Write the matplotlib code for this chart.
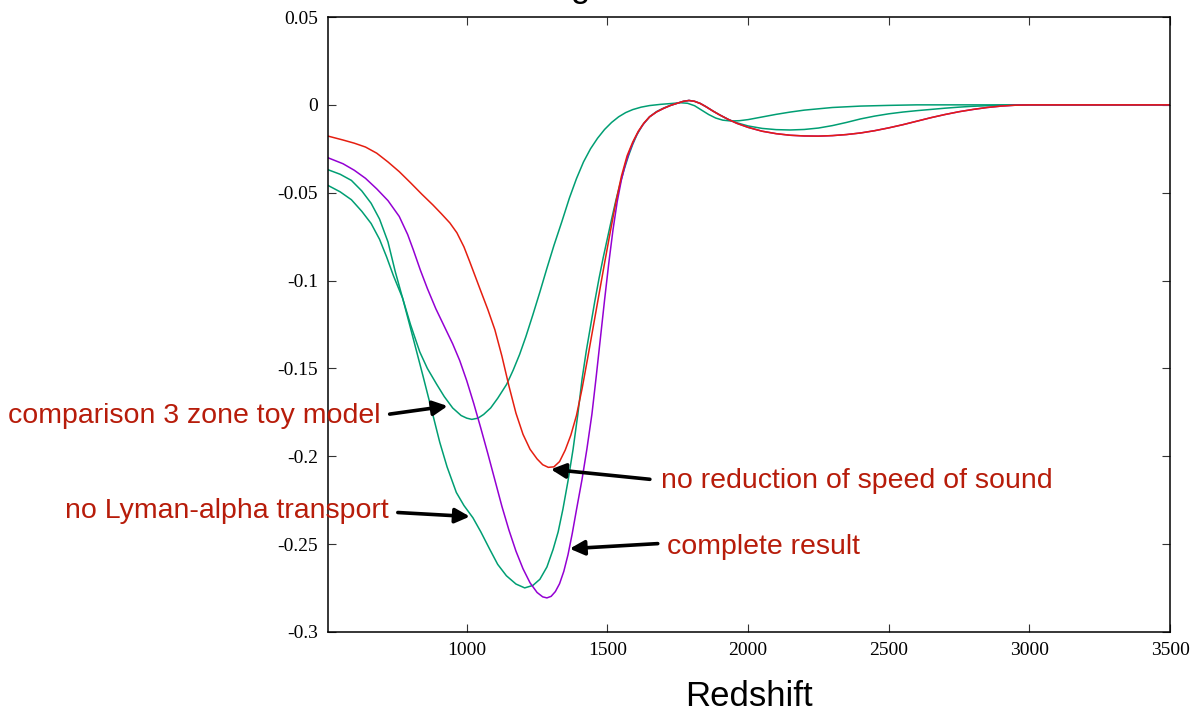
import matplotlib
matplotlib.use("Agg")
import matplotlib.pyplot as plt

# Redshift samples and relative signal for each run
z_nored = [505, 560, 600, 640, 680, 720, 760, 800, 840, 880, 910, 940, 965, 990, 1010,
           1030, 1050, 1075, 1100, 1125, 1150, 1175, 1200, 1225, 1250, 1270, 1290,
           1310, 1330, 1350, 1370, 1390, 1410, 1430, 1450, 1470, 1490, 1510, 1530,
           1550, 1570, 1590, 1610, 1630, 1650, 1675, 1700, 1725, 1750, 1770, 1790,
           1810, 1830, 1850, 1875, 1900, 1930, 1960, 2000, 2050, 2100, 2150, 2200,
           2250, 2300, 2350, 2400, 2450, 2500, 2550, 2600, 2650, 2700, 2750, 2800,
           2850, 2900, 2950, 3000, 3500]
v_nored = [-0.0177, -0.0200, -0.0218, -0.0240, -0.0275, -0.0325, -0.0380, -0.0443,
           -0.0508, -0.0570, -0.0620, -0.0672, -0.0728, -0.0808, -0.0890, -0.0975,
           -0.1060, -0.1165, -0.1280, -0.1430, -0.1600, -0.1755, -0.1875, -0.1960,
           -0.2015, -0.2048, -0.2063, -0.2060, -0.2030, -0.1965, -0.1880, -0.1768,
           -0.1615, -0.1440, -0.1260, -0.1080, -0.0900, -0.0725, -0.0555, -0.0405,
           -0.0290, -0.0212, -0.0150, -0.0103, -0.0068, -0.0040, -0.0020, -0.0003,
           0.0010, 0.0020, 0.0025, 0.0020, 0.0008, -0.0010, -0.0035, -0.0058,
           -0.0083, -0.0105, -0.0128, -0.0150, -0.0164, -0.0173, -0.0177, -0.0178,
           -0.0175, -0.0169, -0.0160, -0.0147, -0.0131, -0.0113, -0.0093, -0.0073,
           -0.0055, -0.0039, -0.0026, -0.0015, -0.0007, -0.0002, 0.0, 0.0]

z_full = [505, 560, 600, 640, 680, 720, 760, 790, 810, 835, 860, 890, 920, 950, 975,
          1000, 1025, 1050, 1075, 1100, 1125, 1150, 1175, 1200, 1225, 1250, 1270,
          1285, 1300, 1315, 1330, 1345, 1360, 1375, 1390, 1410, 1427, 1445, 1460,
          1475, 1490, 1505, 1520, 1535, 1550, 1565, 1580, 1595, 1610, 1630, 1650,
          1675, 1700, 1725, 1750, 1770, 1790, 1810, 1830, 1850, 1875, 1900, 1930,
          1960, 2000, 2050, 2100, 2150, 2200, 2250, 2300, 2350, 2400, 2450, 2500,
          2550, 2600, 2650, 2700, 2750, 2800, 2850, 2900, 2950, 3000, 3500]
v_full = [-0.0300, -0.0335, -0.0372, -0.0418, -0.0478, -0.0545, -0.0635, -0.0738,
          -0.0825, -0.0940, -0.1045, -0.1160, -0.1260, -0.1360, -0.1455, -0.1570,
          -0.1700, -0.1840, -0.1985, -0.2135, -0.2285, -0.2420, -0.2540, -0.2640,
          -0.2720, -0.2775, -0.2800, -0.2806, -0.2797, -0.2770, -0.2725, -0.2655,
          -0.2560, -0.2440, -0.2305, -0.2130, -0.1960, -0.1760, -0.1550, -0.1330,
          -0.1110, -0.0900, -0.0710, -0.0550, -0.0425, -0.0330, -0.0258, -0.0200,
          -0.0152, -0.0105, -0.0068, -0.0040, -0.0020, -0.0003, 0.0010, 0.0020,
          0.0025, 0.0020, 0.0008, -0.0010, -0.0035, -0.0058, -0.0083, -0.0105,
          -0.0128, -0.0150, -0.0164, -0.0173, -0.0177, -0.0178, -0.0175, -0.0169,
          -0.0160, -0.0147, -0.0131, -0.0113, -0.0093, -0.0073, -0.0055, -0.0039,
          -0.0026, -0.0015, -0.0007, -0.0002, 0.0, 0.0]

z_nolya = [505, 550, 590, 627, 660, 690, 720, 746, 772, 800, 844, 875, 904, 930, 963,
           990, 1022, 1050, 1082, 1110, 1141, 1175, 1206, 1235, 1260, 1285, 1307,
           1325, 1342, 1360, 1378, 1395, 1410, 1425, 1440, 1455, 1470, 1485, 1500,
           1515, 1530, 1545, 1560, 1575, 1590, 1605, 1625, 1650, 1675, 1700, 1725,
           1750, 1770, 1790, 1810, 1830, 1850, 1875, 1900, 1930, 1960, 2000, 2050,
           2100, 2150, 2200, 2250, 2300, 2350, 2400, 2450, 2500, 2550, 2600, 2650,
           2700, 2750, 2800, 2850, 2900, 2950, 3000, 3500]
v_nolya = [-0.0368, -0.0395, -0.0430, -0.0490, -0.0560, -0.0650, -0.0780, -0.0950,
           -0.1100, -0.1270, -0.1540, -0.1735, -0.1920, -0.2060, -0.2206, -0.2280,
           -0.2350, -0.2430, -0.2530, -0.2615, -0.2680, -0.2727, -0.2749, -0.2735,
           -0.2700, -0.2630, -0.2530, -0.2430, -0.2300, -0.2140, -0.1960, -0.1760,
           -0.1560, -0.1400, -0.1260, -0.1120, -0.0990, -0.0870, -0.0760, -0.0650,
           -0.0545, -0.0450, -0.0365, -0.0290, -0.0225, -0.0170, -0.0115, -0.0068,
           -0.0038, -0.0018, -0.0002, 0.0010, 0.0020, 0.0025, 0.0020, 0.0008,
           -0.0010, -0.0035, -0.0058, -0.0083, -0.0102, -0.0120, -0.0134, -0.0141,
           -0.0143, -0.0140, -0.0132, -0.0118, -0.0100, -0.0080, -0.0064, -0.0051,
           -0.0041, -0.0033, -0.0026, -0.0019, -0.0013, -0.0008, -0.0005, -0.0002,
           -0.0001, 0.0, 0.0]

z_toy = [505, 550, 590, 627, 660, 690, 715, 740, 772, 800, 833, 860, 893, 920, 950,
         980, 1000, 1018, 1040, 1060, 1085, 1110, 1142, 1165, 1188, 1210, 1235, 1260,
         1285, 1310, 1338, 1365, 1390, 1415, 1440, 1465, 1490, 1515, 1540, 1565,
         1590, 1620, 1650, 1690, 1730, 1760, 1785, 1810, 1835, 1860, 1885, 1910,
         1940, 1970, 2000, 2050, 2100, 2150, 2200, 2300, 2400, 2500, 2600, 3500]
v_toy = [-0.0457, -0.0495, -0.0540, -0.0606, -0.0675, -0.0765, -0.0865, -0.0975,
         -0.1100, -0.1250, -0.1406, -0.1500, -0.1590, -0.1660, -0.1725, -0.1768,
         -0.1783, -0.1790, -0.1783, -0.1762, -0.1725, -0.1670, -0.1590, -0.1510,
         -0.1420, -0.1320, -0.1195, -0.1065, -0.0930, -0.0800, -0.0665, -0.0530,
         -0.0420, -0.0325, -0.0250, -0.0190, -0.0140, -0.0100, -0.0068, -0.0044,
         -0.0027, -0.0013, -0.0004, 0.0003, 0.0008, 0.0012, 0.0009, -0.0005,
         -0.0030, -0.0055, -0.0075, -0.0087, -0.0092, -0.0090, -0.0084, -0.0069,
         -0.0054, -0.0041, -0.0030, -0.0015, -0.0007, -0.0003, 0.0, 0.0]

x_ticks = [1000, 1500, 2000, 2500, 3000, 3500]
y_ticks = [0.05, 0.0, -0.05, -0.1, -0.15, -0.2, -0.25, -0.3]
y_tick_labels = ["0.05", "0", "-0.05", "-0.1", "-0.15", "-0.2", "-0.25", "-0.3"]

RED = "#e51e10"
PURPLE = "#9400d3"
GREEN = "#009e73"
NOTE = "#b71c0a"

fig = plt.figure(figsize=(11.96, 7.16), dpi=100)
ax = fig.add_axes([327.5 / 1196, 1 - 632 / 716, (1170 - 327.5) / 1196, (632 - 17) / 716])

ax.plot(z_toy, v_toy, color=GREEN, lw=1.1)
ax.plot(z_nolya, v_nolya, color=GREEN, lw=1.1)
ax.plot(z_full, v_full, color=PURPLE, lw=1.1)
ax.plot(z_nored, v_nored, color=RED, lw=1.1)

ax.set_xlim(505, 3500)
ax.set_ylim(-0.3, 0.05)
ax.set_xticks(x_ticks)
ax.set_xticklabels([str(t) for t in x_ticks])
ax.set_yticks(y_ticks)
ax.set_yticklabels(y_tick_labels)

for lab in ax.get_xticklabels() + ax.get_yticklabels():
    lab.set_family("Liberation Serif")
    lab.set_fontsize(14)

ax.tick_params(direction="in", length=6, width=0.8, color="#333333",
               top=True, right=True, pad=7)
for sp in ax.spines.values():
    sp.set_linewidth(1.1)

ax.set_xlabel("Redshift", fontsize=25, family="Liberation Sans", va="center")
ax.xaxis.set_label_coords(0.5, (632 - 697) / 615)

# top title line, mostly outside the canvas
fig.text(580 / 1196, 1 + 3.3 / 716, "g", fontsize=25, family="Liberation Sans",
         ha="center", va="baseline")

arrow = dict(arrowstyle="-|>", color="black", lw=2.6, mutation_scale=22,
             shrinkA=0, shrinkB=0)
notes = [
    ("comparison 3 zone toy model", (694, -0.1771), "right", (726, -0.176), (932, -0.1714)),
    ("no Lyman-alpha transport", (723, -0.2314), "right", (755, -0.232), (1011, -0.2343)),
    ("no reduction of speed of sound", (1690, -0.2143), "left", (1651, -0.2131), (1299, -0.2074)),
    ("complete result", (1711, -0.2514), "left", (1679, -0.2497), (1366, -0.2526)),
]
for text, pos, ha, tail, head in notes:
    ax.text(pos[0], pos[1], text, fontsize=20.5, family="Liberation Sans",
            color=NOTE, ha=ha, va="center", clip_on=False)
    ax.annotate("", xy=head, xytext=tail, arrowprops=arrow, annotation_clip=False)

fig.savefig("out.png", dpi=100)
